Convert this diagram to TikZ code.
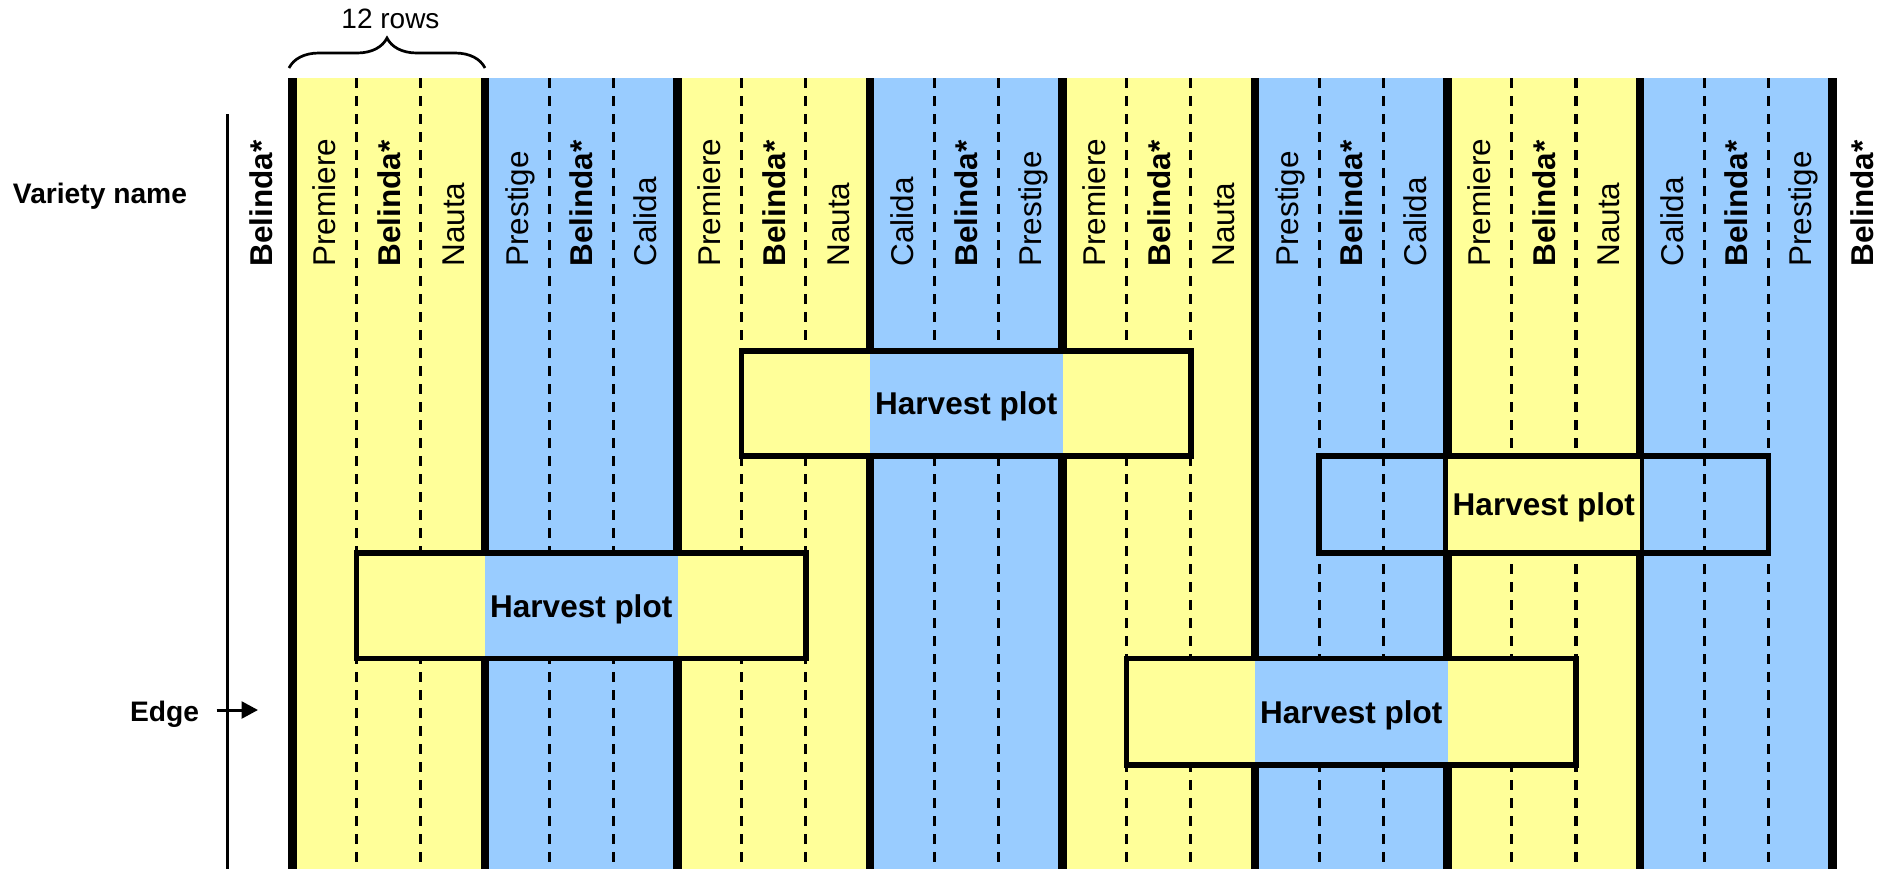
\documentclass[tikz,border=0pt]{standalone}
\usepackage{fontspec}
\setmainfont{Liberation Sans}
\usetikzlibrary{arrows.meta,decorations.pathreplacing}
\definecolor{plotyellow}{HTML}{FFFF99}
\definecolor{plotblue}{HTML}{99CCFF}
\newcommand\colx[1]{292.5+64.1667*#1}
\begin{document}
\begin{tikzpicture}[x=0.5pt,y=-0.5pt,
  collabel/.style={rotate=90,anchor=base west,inner sep=0pt,font=\fontsize{15.75}{18}\selectfont},
  boldlabel/.style={rotate=90,anchor=base west,inner sep=0pt,font=\fontsize{15.75}{18}\selectfont\bfseries},
  thickline/.style={line width=4.15pt},
  dashline/.style={line width=1.65pt,dash pattern=on 5pt off 4pt},
  hbox/.style={draw,line width=2.75pt,inner sep=0pt,text height=11.28pt,text depth=0pt,
    font=\fontsize{15.75}{18}\selectfont\bfseries},
  sidetext/.style={anchor=base,inner sep=0pt,font=\fontsize{14.1}{17}\selectfont\bfseries}]
\useasboundingbox (0,0) rectangle (1890,869);
% variety group fills
\foreach \g/\c in {0/plotyellow,1/plotblue,2/plotyellow,3/plotblue,4/plotyellow,5/plotblue,6/plotyellow,7/plotblue}
  \fill[\c] ({292.5+192.5*\g},78) rectangle ({292.5+192.5*(\g+1)},869);
% row separators
\foreach \k in {1,2,4,5,7,8,10,11,13,14,16,17,19,20,22,23}
  \draw[dashline] ({\colx{\k}},78) -- ({\colx{\k}},869);
\foreach \k in {0,3,...,24}
  \draw[thickline] ({\colx{\k}},78) -- ({\colx{\k}},869);
% column labels
\foreach \k/\t in {0/Premiere,2/Nauta,3/Prestige,5/Calida,6/Premiere,8/Nauta,9/Calida,11/Prestige,
  12/Premiere,14/Nauta,15/Prestige,17/Calida,18/Premiere,20/Nauta,21/Calida,23/Prestige}
  \node[collabel] (lab\k) at ({\colx{(\k+0.5)}+11.3},267) {\t};
\foreach \k in {1,4,...,22}
  \node[boldlabel] (lab\k) at ({\colx{(\k+0.5)}+11.3},267) {Belinda*};
\node[boldlabel] (belL) at (272,267) {Belinda*};
\node[boldlabel] (belR) at (1873.5,267) {Belinda*};
% harvest plot 1
\fill[plotyellow] ({\colx{7}},350.8) rectangle ({\colx{9}},456);
\fill[plotblue] ({\colx{9}},350.8) rectangle ({\colx{12}},456);
\fill[plotyellow] ({\colx{12}},350.8) rectangle ({\colx{14}},456);
\node[hbox,minimum width=224.58pt,minimum height=52.6pt] (hp1) at ({\colx{10.5}},403.4) {Harvest plot};
% harvest plot 2
\fill[plotyellow] ({\colx{18}},456) rectangle ({\colx{21}},552.8);
\node[hbox,minimum width=224.58pt,minimum height=48.4pt] (hp2) at ({\colx{19.5}},504.4) {Harvest plot};
% harvest plot 3
\fill[plotyellow] ({\colx{1}},553) rectangle ({\colx{3}},658.5);
\fill[plotblue] ({\colx{3}},553) rectangle ({\colx{6}},658.5);
\fill[plotyellow] ({\colx{6}},553) rectangle ({\colx{8}},658.5);
\node[hbox,minimum width=224.58pt,minimum height=52.75pt] (hp3) at ({\colx{4.5}},605.75) {Harvest plot};
% harvest plot 4
\fill[plotyellow] ({\colx{13}},658.5) rectangle ({\colx{15}},765);
\fill[plotblue] ({\colx{15}},658.5) rectangle ({\colx{18}},765);
\fill[plotyellow] ({\colx{18}},658.5) rectangle ({\colx{20}},765);
\node[hbox,minimum width=224.58pt,minimum height=53.25pt] (hp4) at ({\colx{16.5}},711.75) {Harvest plot};
% left side
\coordinate (vtop) at (227.7,114);
\coordinate (vbot) at (227.7,869);
\draw[line width=1.5pt] (vtop) -- (vbot);
\node[sidetext] (vname) at (100,203.3) {Variety name};
\node[sidetext] (edgelab) at (164.5,721.7) {Edge};
\coordinate (arrS) at (216.7,710);
\coordinate (arrE) at (258,710);
\draw[line width=1.5pt,-{Triangle[length=8.2pt,width=8.4pt]}] (arrS) -- (arrE);
% brace
\coordinate (braceL) at (289,68);
\coordinate (braceR) at (485,68);
\draw[line width=1.35pt,decorate,decoration={brace,amplitude=15pt}] (braceL) -- (braceR);
\node[anchor=base,inner sep=0pt,font=\fontsize{14}{17}\selectfont] (rows) at (390.5,28.3) {12 rows};
\end{tikzpicture}
\end{document}
